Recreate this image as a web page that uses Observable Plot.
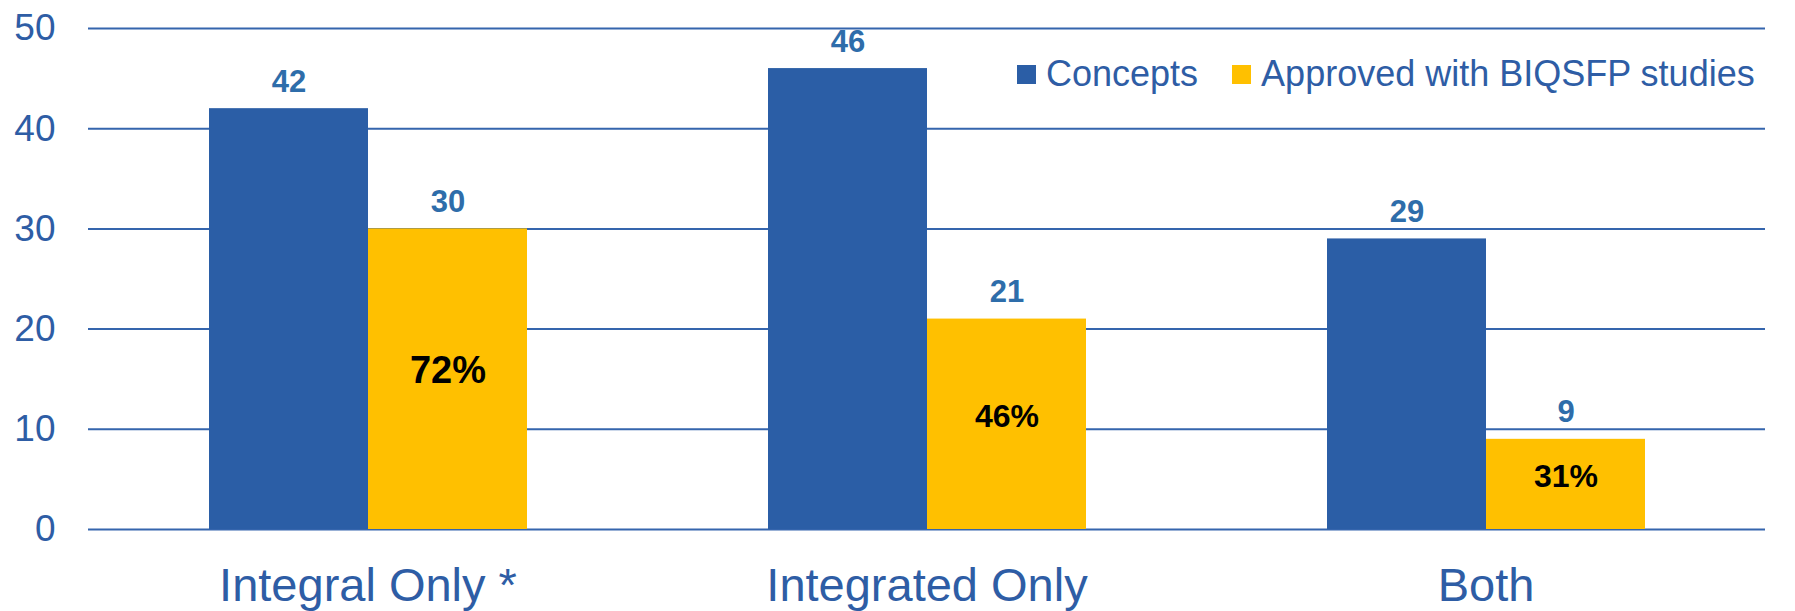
<!DOCTYPE html>
<html>
<head>
<meta charset="utf-8">
<script src="https://cdn.jsdelivr.net/npm/d3@7"></script>
<script src="https://cdn.jsdelivr.net/npm/@observablehq/plot@0.6"></script>
<style>
  html, body { margin: 0; padding: 0; background: #fff; }
  #chart { position: relative; width: 1795px; height: 611px; font-family: "Liberation Sans", Arial, sans-serif; }
  #legend { position: absolute; left: 1017px; top: 56px; display: flex; align-items: center; font-size: 36px; line-height: 36px; color: #2E5DA5; white-space: nowrap; }
  #legend .item { display: flex; align-items: center; margin-right: 34px; }
  #legend .item:last-child { margin-right: 0; }
  #legend .swatch { width: 19px; height: 19px; margin-right: 10px; }
</style>
</head>
<body>
<div id="chart"><div id="legend"></div></div>
<script>
// Study concepts by type, and how many were approved with BIQSFP studies
const categories = ["Integral Only *", "Integrated Only", "Both"];
const series = ["Concepts", "Approved with BIQSFP studies"];
const concepts = [42, 46, 29];
const approved = [30, 21, 9];
const approvedShare = ["72%", "46%", "31%"];
const yTicks = [0, 10, 20, 30, 40, 50];

// Styling
const seriesColors = ["#2B5EA6", "#FFC000"];
const shareFontSizes = [38, 32, 32];
const axisColor = "#2E5DA5";
const gridColor = "#3565AD";
const valueColor = "#2E6DAA";

// Long table for the grouped bars
const rows = categories.flatMap((c, i) => [
  {category: c, series: series[0], value: concepts[i]},
  {category: c, series: series[1], value: approved[i]}
]);
const shares = categories.map((c, i) => ({
  category: c, series: series[1], value: approved[i], label: approvedShare[i], size: shareFontSizes[i]
}));

const chart = Plot.plot({
  width: 1795,
  height: 611,
  marginLeft: 87,
  marginRight: 29,
  marginTop: 28,
  marginBottom: 82,
  style: {fontFamily: "'Liberation Sans', Arial, sans-serif", color: axisColor, background: "#fff"},
  fx: {domain: categories, padding: 0, label: null},
  x: {domain: series, paddingInner: 0, paddingOuter: 0.754, axis: null},
  y: {domain: [0, 50], label: null},
  color: {domain: series, range: seriesColors},
  marks: [
    Plot.ruleY(yTicks, {stroke: gridColor, strokeWidth: 2}),
    Plot.barY(rows, {fx: "category", x: "series", y: "value", fill: "series"}),
    Plot.text(rows, {
      fx: "category", x: "series", y: "value", text: d => String(d.value),
      lineAnchor: "bottom", dy: -17, fontSize: 31, fontWeight: "bold", fill: valueColor
    }),
    Plot.text(shares, {
      fx: "category", x: "series", y: d => d.value / 2, text: "label",
      fontSize: "size", fontWeight: "bold", fill: "#000", dy: -8
    }),
    Plot.axisY(yTicks, {tickSize: 0, tickPadding: 33, fontSize: 37, label: null, fill: axisColor}),
    Plot.axisFx({anchor: "bottom", tickSize: 0, tickPadding: 38, fontSize: 47, label: null, fill: axisColor})
  ]
});

const host = document.getElementById("chart");
host.insertBefore(chart, host.firstChild);

// Legend drawn from the same series and colours
const legend = document.getElementById("legend");
series.forEach((name, i) => {
  const item = document.createElement("div");
  item.className = "item";
  const sw = document.createElement("div");
  sw.className = "swatch";
  sw.style.background = seriesColors[i];
  const label = document.createElement("span");
  label.textContent = name;
  item.appendChild(sw);
  item.appendChild(label);
  legend.appendChild(item);
});
</script>
</body>
</html>
